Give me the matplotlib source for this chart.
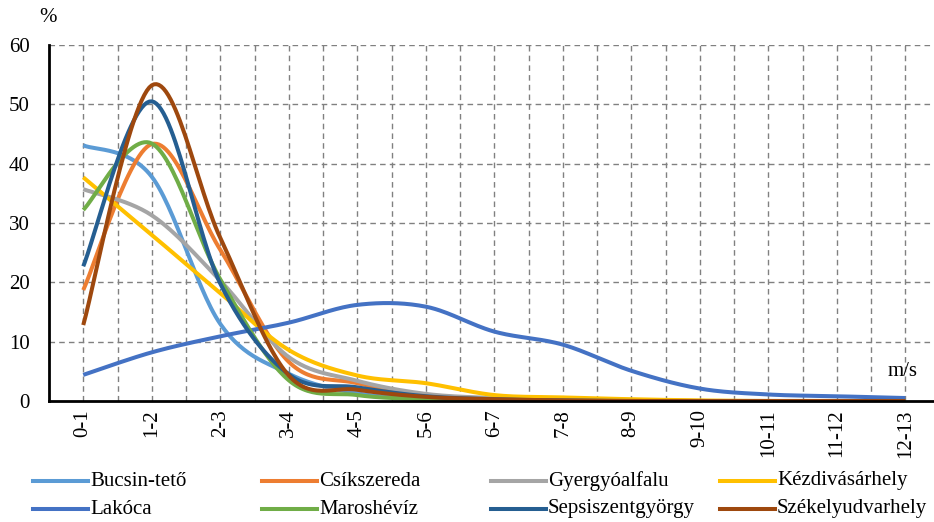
import numpy as np
import matplotlib.pyplot as plt
from matplotlib.lines import Line2D

plt.rcParams['font.family'] = ['Liberation Serif', 'DejaVu Serif']

categories = ['0-1', '1-2', '2-3', '3-4', '4-5', '5-6', '6-7', '7-8',
              '8-9', '9-10', '10-11', '11-12', '12-13']

bucsin = [43.1, 37.8, 13.0, 4.6, 1.3, 0.4, 0.1, 0.05, 0, 0, 0, 0, 0]
csikszereda = [18.7, 43.3, 25.5, 6.6, 3.0, 1.0, 0.4, 0.2, 0.1, 0, 0, 0, 0]
gyergyoalfalu = [35.7, 31.3, 20.3, 7.4, 3.4, 1.2, 0.5, 0.2, 0.1, 0, 0, 0, 0]
kezdivasarhely = [37.7, 28.0, 18.2, 8.6, 4.3, 3.0, 1.0, 0.6, 0.3, 0.1, 0, 0, 0]
lakoca = [4.4, 8.2, 10.9, 13.2, 16.2, 15.9, 11.7, 9.5, 5.1, 2.1, 1.1, 0.8, 0.5]
maroshevig = [32.2, 43.4, 20.5, 3.5, 1.0, 0.3, 0.1, 0, 0, 0, 0, 0, 0]
sepsi = [22.7, 50.5, 19.8, 4.5, 2.3, 0.8, 0.3, 0.1, 0, 0, 0, 0, 0]
szekely = [12.8, 53.2, 27.5, 4.3, 1.9, 0.7, 0.3, 0.1, 0, 0, 0, 0, 0]

names = ['Bucsin-tető', 'Csíkszereda', 'Gyergyóalfalu', 'Kézdivásárhely',
         'Lakóca', 'Maroshévíz', 'Sepsiszentgyörgy', 'Székelyudvarhely']
series = [bucsin, csikszereda, gyergyoalfalu, kezdivasarhely,
          lakoca, maroshevig, sepsi, szekely]
colors = ['#5B9BD5', '#ED7D31', '#A5A5A5', '#FFC000',
          '#4472C4', '#70AD47', '#255E91', '#9E480E']


def smooth(x, y, n=30):
    # bezier segments with catmull-rom style control points
    x = np.asarray(x, float)
    y = np.asarray(y, float)
    xp = np.concatenate([[x[0]], x, [x[-1]]])
    yp = np.concatenate([[y[0]], y, [y[-1]]])
    t = np.linspace(0, 1, n)[:, None]
    out_x, out_y = [], []
    for i in range(len(x) - 1):
        p0 = np.array([xp[i + 1], yp[i + 1]])
        p3 = np.array([xp[i + 2], yp[i + 2]])
        p1 = p0 + (p3 - np.array([xp[i], yp[i]])) / 6
        p2 = p3 - (np.array([xp[i + 3], yp[i + 3]]) - p0) / 6
        pts = ((1 - t) ** 3) * p0 + 3 * ((1 - t) ** 2) * t * p1 \
            + 3 * (1 - t) * t ** 2 * p2 + t ** 3 * p3
        out_x.append(pts[:, 0])
        out_y.append(pts[:, 1])
    return np.concatenate(out_x), np.concatenate(out_y)


fig = plt.figure(figsize=(9.34, 5.22), dpi=100)
W, H = 934, 522
ax = fig.add_axes([49 / W, 1 - 401 / H, 1 - 49 / W, (401 - 45) / H])

xs = np.arange(len(categories))
for name, vals, c in zip(names, series, colors):
    sx, sy = smooth(xs, vals)
    ax.plot(sx, sy, color=c, lw=2.9, solid_capstyle='butt', zorder=3)

ax.set_xlim(-0.5, (934 - 49) / 68.5 - 0.5)
ax.set_ylim(0, 60)
ax.set_yticks(range(0, 61, 10))
ax.set_xticks(xs)
ax.set_xticklabels(categories, rotation=90, fontsize=15)
ax.tick_params(axis='y', labelsize=15, length=0, pad=14)
ax.tick_params(axis='x', length=0, pad=6)

# dashed grid: horizontal at 10 % steps, vertical at every half category
for yv in range(10, 61, 10):
    ax.axhline(yv, color='#808080', lw=1, ls=(0, (4, 3)), zorder=1)
for xv in np.arange(0, 12.01, 0.5):
    ax.axvline(xv, color='#808080', lw=1, ls=(0, (4, 3)), zorder=1)

for s in ['top', 'right']:
    ax.spines[s].set_visible(False)
ax.spines['left'].set_linewidth(2)
ax.spines['bottom'].set_linewidth(2)
ax.spines['bottom'].set_zorder(4)

fig.text(48 / W, 1 - 18 / H, '%', fontsize=15, ha='center', va='center')
fig.text(903 / W, 1 - 372 / H, 'm/s', fontsize=15, ha='center', va='center')

# legend, 4 columns x 2 rows
for i, (name, c) in enumerate(zip(names, colors)):
    col, row = i % 4, i // 4
    x0 = 33 + col * 229
    yy = 1 - (481 + row * 28) / H
    fig.add_artist(Line2D([x0 / W, (x0 + 55) / W], [yy, yy], color=c, lw=2.9,
                          transform=fig.transFigure))
    fig.text((x0 + 57) / W, yy, name, fontsize=15, ha='left', va='center')

fig.savefig('out.png', dpi=100)
